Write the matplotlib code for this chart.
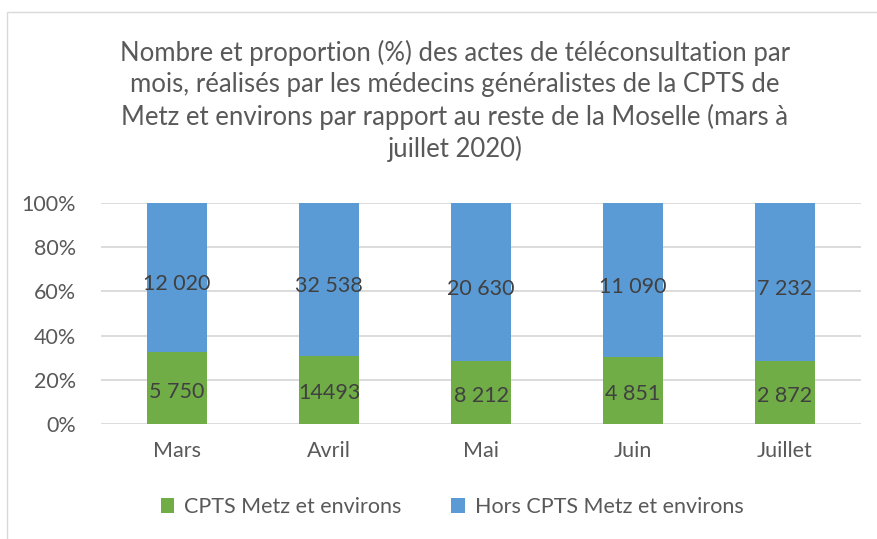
import matplotlib
matplotlib.use("Agg")
import matplotlib.pyplot as plt
from matplotlib.patches import Rectangle
import numpy as np

plt.rcParams['font.family'] = ['Lato', 'DejaVu Sans']

months = ["Mars", "Avril", "Mai", "Juin", "Juillet"]
cpts = [5750, 14493, 8212, 4851, 2872]
hors = [12020, 32538, 20630, 11090, 7232]
cpts_labels = ["5 750", "14493", "8 212", "4 851", "2 872"]
hors_labels = ["12 020", "32 538", "20 630", "11 090", "7 232"]
series_names = ["CPTS Metz et environs", "Hors CPTS Metz et environs"]
yticks = [0, 20, 40, 60, 80, 100]
title = ("Nombre et proportion (%) des actes de téléconsultation par\n"
         "mois, réalisés par les médecins généralistes de la CPTS de\n"
         "Metz et environs par rapport au reste de la Moselle (mars à\n"
         "juillet 2020)")

green = "#70AD47"
blue = "#5B9BD5"
txt = "#595959"
lab = "#404040"

W, H = 878, 539
fig = plt.figure(figsize=(W/100, H/100), dpi=100)

# outer frame
fig.patches.append(Rectangle((7/W, -0.01), 1.0, 1 - 12/H + 0.01, transform=fig.transFigure,
                             fill=False, edgecolor="#D9D9D9", linewidth=1.0))

ax = fig.add_axes([101/W, 1 - 424/H, (861 - 101)/W, (424 - 203)/H])

tot = np.array(cpts) + np.array(hors)
p_c = np.array(cpts) / tot * 100
p_h = np.array(hors) / tot * 100
x = np.arange(len(months))
bw = 0.4
ax.bar(x, p_c, width=bw, color=green, label=series_names[0], zorder=3)
ax.bar(x, p_h, width=bw, bottom=p_c, color=blue, label=series_names[1], zorder=3)

for i in range(len(months)):
    ax.text(x[i], p_c[i] / 2 - 1.5, cpts_labels[i], ha="center", va="center",
            fontsize=15.5, color=lab, zorder=4)
    ax.text(x[i], p_c[i] + p_h[i] / 2 - 3, hors_labels[i], ha="center", va="center",
            fontsize=15.5, color=lab, zorder=4)

ax.set_xlim(-0.5, len(months) - 0.5)
ax.set_ylim(0, 100)
ax.set_yticks(yticks)
ax.set_yticklabels([f"{v}%" for v in yticks], fontsize=15.5, color=txt)
ax.set_xticks(x)
ax.set_xticklabels(months, fontsize=15.5, color=txt)
ax.tick_params(axis="both", length=0)
ax.tick_params(axis="y", pad=18)
ax.tick_params(axis="x", pad=12)
ax.grid(axis="y", color="#D9D9D9", linewidth=1.3, zorder=0)
for s in ax.spines.values():
    s.set_visible(False)

fig.text(455/W, 1 - 101/H, title, ha="center", va="center", fontsize=18.5,
         color=txt, linespacing=1.3)

leg = fig.legend(loc="center", bbox_to_anchor=(452/W, 1 - 507/H), ncol=2, frameon=False,
                 fontsize=15.5, handlelength=0.65, handleheight=0.65, handletextpad=0.45,
                 columnspacing=2.3)
for t in leg.get_texts():
    t.set_color(txt)

fig.savefig("out.png", dpi=100)
